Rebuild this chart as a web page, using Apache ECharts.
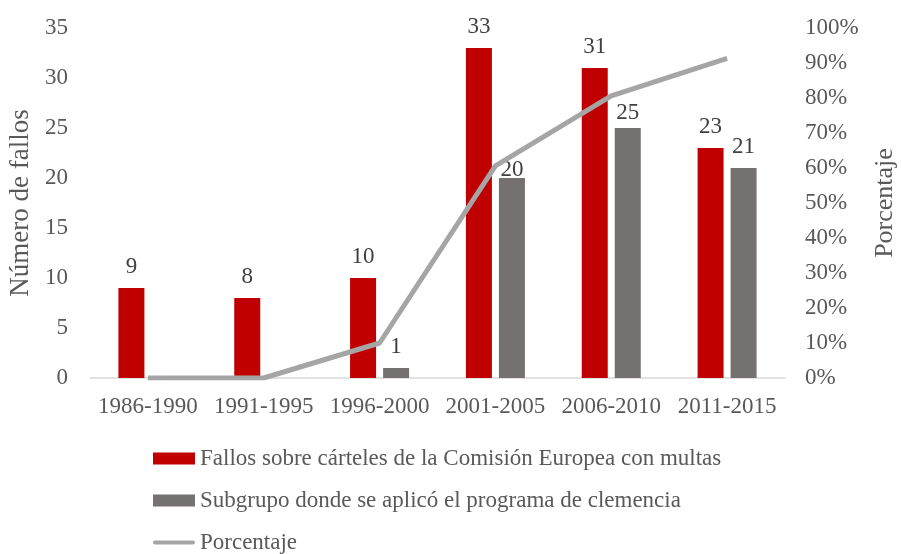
<!DOCTYPE html>
<html>
<head>
<meta charset="utf-8">
<script src="https://cdn.jsdelivr.net/npm/echarts@6/dist/echarts.min.js"></script>
<style>
  html, body { margin: 0; padding: 0; background: #fff; }
  #app { width: 901px; height: 554px; }
</style>
</head>
<body>
<div id="app"></div>
<script>
var periods = ["1986-1990", "1991-1995", "1996-2000", "2001-2005", "2006-2010", "2011-2015"];
var fallos = [9, 8, 10, 33, 31, 23];
var clemencia = [null, null, 1, 20, 25, 21];
var porcentaje = [0, 0, 10, 60.6, 80.6, 91.3];

var font = "Liberation Serif";
var myChart = echarts.init(document.getElementById("app"));

// a couple of labels sit lower in the original so they dodge the line
var labelNudge = { 3: -3, 4: 4 };
var clemenciaData = clemencia.map(function (v, i) {
  if (labelNudge[i] === undefined) return v;
  return { value: v, label: { distance: labelNudge[i] } };
});

var lineIcon = "path://M0,0 M42,12 M2,4 L40,4 Q42,4 42,6 Q42,8 40,8 L2,8 Q0,8 0,6 Q0,4 2,4 Z";

var option = {
  animation: false,
  textStyle: { fontFamily: font },
  grid: { left: 90, right: 116, top: 28, bottom: 176, outerBoundsMode: "none" },
  legend: {
    orient: "vertical",
    left: 153,
    top: 447,
    height: 130,
    padding: 0,
    itemWidth: 42,
    itemHeight: 12,
    itemGap: 19,
    textStyle: { fontFamily: font, fontSize: 23, color: "#595959" },
    data: [
      { name: "Fallos sobre cárteles de la Comisión Europea con multas", icon: "rect" },
      { name: "Subgrupo donde se aplicó el programa de clemencia", icon: "rect" },
      { name: "Porcentaje", icon: lineIcon }
    ]
  },
  xAxis: {
    type: "category",
    data: periods,
    axisLine: { lineStyle: { color: "#D9D9D9", width: 1.5 } },
    axisTick: { show: false },
    axisLabel: { fontFamily: font, fontSize: 23, color: "#595959", margin: 17, interval: 0 }
  },
  yAxis: [
    {
      type: "value",
      min: 0,
      max: 35,
      interval: 5,
      name: "Número de fallos",
      nameLocation: "middle",
      nameGap: 50,
      nameTextStyle: { fontFamily: font, fontSize: 27, color: "#595959" },
      splitLine: { show: false },
      axisLabel: { fontFamily: font, fontSize: 23, color: "#595959", margin: 22 }
    },
    {
      type: "value",
      min: 0,
      max: 100,
      interval: 10,
      name: "Porcentaje",
      nameLocation: "middle",
      nameGap: 87,
      nameRotate: 90,
      nameTextStyle: { fontFamily: font, fontSize: 26, color: "#595959" },
      splitLine: { show: false },
      axisLabel: { fontFamily: font, fontSize: 23, color: "#595959", margin: 20, formatter: "{value}%" }
    }
  ],
  series: [
    {
      name: "Fallos sobre cárteles de la Comisión Europea con multas",
      type: "bar",
      data: fallos,
      barWidth: 26,
      barGap: "27%",
      itemStyle: { color: "#C00000" },
      label: { show: true, position: "top", distance: 10, fontFamily: font, fontSize: 23, color: "#404040" }
    },
    {
      name: "Subgrupo donde se aplicó el programa de clemencia",
      type: "bar",
      data: clemenciaData,
      barWidth: 26,
      itemStyle: { color: "#767171" },
      label: { show: true, position: "top", distance: 10, fontFamily: font, fontSize: 23, color: "#404040" }
    },
    {
      name: "Porcentaje",
      type: "line",
      yAxisIndex: 1,
      data: porcentaje,
      symbol: "none",
      lineStyle: { color: "#A5A5A5", width: 5 },
      itemStyle: { color: "#A5A5A5" },
      z: 3
    }
  ]
};

myChart.setOption(option);
</script>
</body>
</html>
